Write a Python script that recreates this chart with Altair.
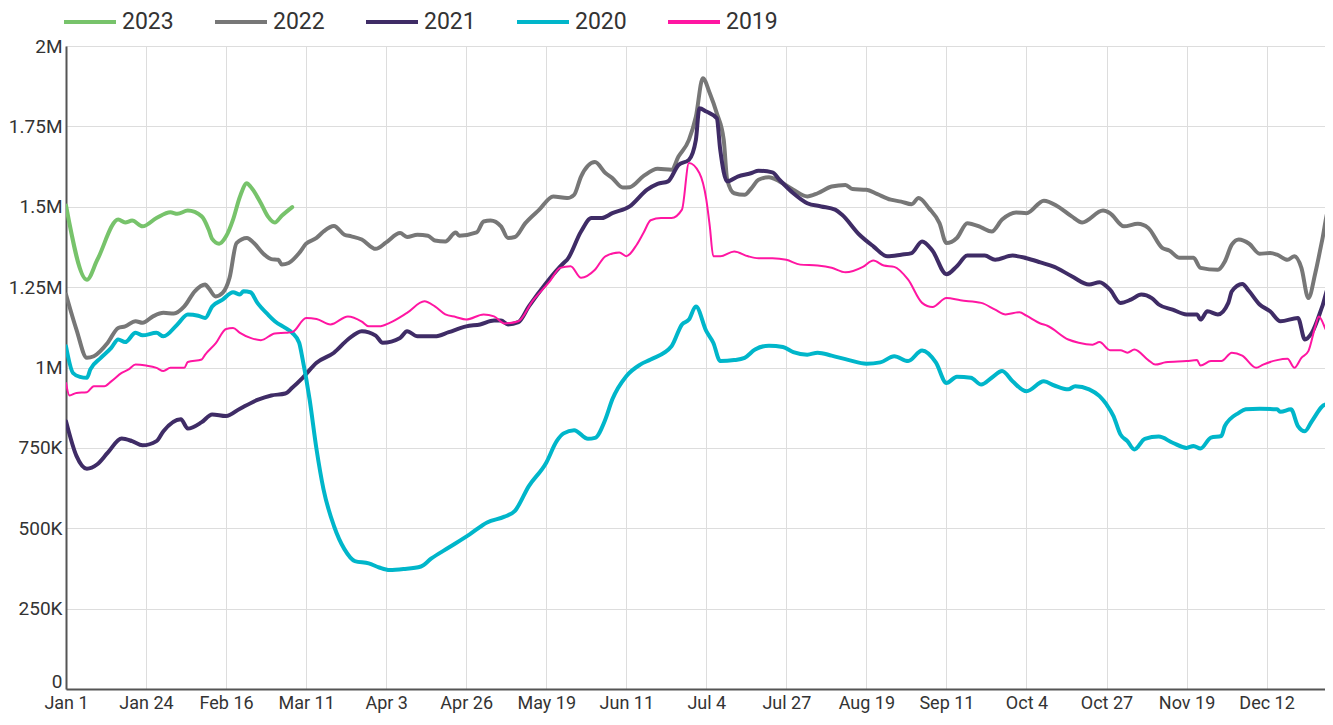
import altair as alt
import pandas as pd

years = ["2023", "2022", "2021", "2020", "2019"]
colors = ["#77c36b", "#777777", "#3f2c66", "#00b6ca", "#ff16a2"]
stroke_widths = [4, 4, 4, 4, 2]

tick_days = [0, 23, 46, 69, 92, 115, 138, 161, 184, 207, 230, 253, 276, 299, 322, 345]
tick_labels = ["Jan 1", "Jan 24", "Feb 16", "Mar 11", "Apr 3", "Apr 26", "May 19", "Jun 11",
               "Jul 4", "Jul 27", "Aug 19", "Sep 11", "Oct 4", "Oct 27", "Nov 19", "Dec 12"]
y_ticks = [0, 250000, 500000, 750000, 1000000, 1250000, 1500000, 1750000, 2000000]

# values in thousands
days_2023 = [0, 6, 9, 15, 17, 19, 22, 26, 30, 32, 35, 39, 41, 42, 44, 46, 48, 50, 52, 53, 56, 58, 60, 62, 65]
vals_2023 = [1504, 1273, 1335, 1460, 1451, 1457, 1439, 1465, 1483, 1478, 1488, 1470, 1429, 1400, 1385,
             1408, 1460, 1532, 1573, 1563, 1511, 1470, 1451, 1472, 1499]

days_2022 = [0, 3, 6, 8, 12, 15, 17, 20, 22, 25, 28, 31, 34, 37, 40, 41, 43, 45, 47, 49, 52, 54, 57, 59,
             61, 62, 64, 67, 69, 72, 74, 77, 80, 82, 85, 89, 92, 96, 98, 101, 104, 106, 109, 112, 113,
             118, 120, 122, 125, 127, 129, 132, 136, 140, 144, 146, 148, 152, 155, 157, 160, 162, 166,
             170, 174, 176, 179, 181, 183, 185, 187, 189, 190, 192, 195, 197, 199, 202, 205, 209, 213,
             216, 220, 224, 226, 230, 233, 237, 240, 243, 245, 248, 251, 253, 256, 259, 263, 266, 269,
             273, 276, 281, 285, 289, 292, 298, 300, 304, 308, 311, 315, 317, 320, 324, 326, 331, 333,
             335, 337, 340, 343, 346, 348, 351, 353, 355, 357, 359, 361, 363, 364]
vals_2022 = [1227, 1118, 1030, 1035, 1077, 1123, 1128, 1144, 1139, 1159, 1170, 1168, 1190, 1237, 1258,
             1247, 1221, 1232, 1279, 1387, 1403, 1387, 1351, 1337, 1335, 1320, 1325, 1356, 1385, 1403,
             1423, 1440, 1413, 1408, 1398, 1369, 1389, 1418, 1406, 1413, 1410, 1395, 1392, 1420, 1410,
             1420, 1454, 1457, 1439, 1403, 1406, 1449, 1491, 1532, 1527, 1537, 1594, 1639, 1605, 1589,
             1560, 1561, 1596, 1618, 1615, 1656, 1708, 1780, 1900, 1853, 1791, 1708, 1584, 1542, 1537,
             1558, 1584, 1592, 1579, 1553, 1532, 1542, 1563, 1568, 1555, 1553, 1540, 1522, 1516, 1508,
             1527, 1495, 1449, 1387, 1403, 1449, 1436, 1423, 1460, 1482, 1480, 1519, 1501, 1470, 1451,
             1488, 1480, 1439, 1447, 1434, 1372, 1364, 1341, 1341, 1310, 1304, 1330, 1382, 1398, 1385,
             1354, 1356, 1351, 1335, 1346, 1310, 1216, 1294, 1398, 1501, 1505]

days_2021 = [0, 3, 6, 9, 12, 16, 19, 22, 26, 28, 33, 35, 39, 42, 46, 50, 55, 59, 63, 65, 68, 72, 77, 81,
             85, 89, 91, 96, 98, 101, 106, 110, 115, 119, 123, 125, 127, 130, 133, 138, 143, 144, 148,
             151, 154, 157, 162, 167, 170, 173, 176, 179, 181, 182, 184, 187, 188, 190, 193, 197, 199,
             203, 205, 209, 213, 217, 221, 223, 228, 232, 236, 240, 243, 246, 249, 253, 256, 259, 264,
             267, 272, 276, 280, 284, 289, 294, 297, 300, 303, 306, 309, 312, 314, 318, 322, 325, 326,
             328, 331, 334, 335, 338, 340, 343, 346, 349, 354, 356, 358, 361, 363, 364]
vals_2021 = [833, 725, 685, 699, 735, 779, 771, 758, 771, 802, 839, 810, 830, 854, 849, 872, 899, 913,
             919, 937, 968, 1015, 1046, 1087, 1113, 1099, 1077, 1092, 1113, 1097, 1097, 1110, 1128, 1134,
             1146, 1146, 1134, 1141, 1190, 1263, 1325, 1335, 1423, 1465, 1465, 1480, 1501, 1553, 1571,
             1579, 1630, 1646, 1708, 1806, 1796, 1775, 1677, 1579, 1594, 1605, 1612, 1607, 1584, 1542,
             1511, 1501, 1491, 1475, 1413, 1377, 1346, 1351, 1356, 1392, 1363, 1290, 1315, 1348, 1348,
             1335, 1348, 1340, 1327, 1313, 1284, 1258, 1265, 1242, 1201, 1211, 1227, 1216, 1196, 1180,
             1165, 1165, 1149, 1175, 1165, 1201, 1237, 1260, 1237, 1196, 1175, 1144, 1154, 1087, 1108,
             1190, 1252, 1232]

days_2020 = [0, 2, 4, 6, 7, 10, 13, 15, 17, 20, 22, 26, 28, 32, 35, 38, 40, 42, 45, 48, 50, 51, 53, 55,
             58, 60, 63, 65, 67, 68, 70, 72, 74, 77, 80, 83, 87, 90, 93, 97, 102, 105, 110, 116, 121,
             126, 129, 133, 138, 141, 143, 146, 150, 152, 155, 157, 161, 165, 168, 174, 177, 179, 181,
             184, 186, 188, 192, 195, 198, 202, 206, 209, 213, 216, 220, 225, 230, 234, 238, 242, 246,
             250, 253, 256, 260, 263, 266, 269, 272, 276, 281, 284, 288, 290, 294, 297, 299, 301, 303,
             305, 307, 310, 314, 318, 322, 324, 326, 329, 332, 333, 337, 339, 343, 348, 349, 352, 354,
             356, 358, 362, 364]
vals_2020 = [1066, 983, 971, 968, 994, 1030, 1061, 1087, 1079, 1108, 1100, 1108, 1097, 1134, 1165, 1161,
             1154, 1190, 1211, 1234, 1227, 1237, 1234, 1201, 1165, 1144, 1123, 1108, 1077, 1025, 901,
             745, 621, 507, 435, 398, 391, 378, 370, 373, 381, 406, 440, 481, 518, 536, 554, 631, 704,
             771, 795, 805, 778, 781, 839, 901, 973, 1009, 1025, 1066, 1134, 1149, 1190, 1113, 1077,
             1020, 1023, 1030, 1056, 1068, 1064, 1048, 1040, 1046, 1037, 1023, 1012, 1016, 1035, 1020,
             1053, 1015, 952, 971, 968, 947, 968, 989, 957, 926, 957, 944, 932, 942, 932, 911, 885, 849,
             792, 771, 745, 778, 785, 766, 750, 756, 748, 782, 787, 818, 859, 870, 872, 870, 862, 870,
             818, 802, 833, 885, 844]

days_2019 = [0, 1, 3, 6, 8, 11, 13, 16, 18, 20, 23, 26, 28, 30, 34, 35, 39, 40, 43, 46, 48, 50, 53, 56,
             60, 63, 65, 69, 72, 76, 81, 85, 87, 90, 93, 98, 103, 106, 109, 112, 115, 120, 123, 126,
             130, 134, 139, 142, 145, 148, 152, 155, 159, 161, 164, 166, 168, 171, 174, 177, 179, 182,
             184, 185, 186, 188, 192, 196, 199, 203, 207, 211, 216, 220, 224, 229, 232, 235, 238, 242,
             246, 249, 253, 257, 263, 267, 270, 274, 276, 280, 282, 288, 291, 295, 297, 300, 303, 305,
             307, 311, 313, 316, 322, 325, 326, 329, 332, 335, 338, 342, 344, 348, 351, 353, 355, 357,
             359, 360, 362, 364]
vals_2019 = [952, 913, 921, 923, 942, 942, 957, 983, 994, 1009, 1006, 999, 989, 999, 999, 1017, 1025,
             1040, 1075, 1120, 1123, 1108, 1092, 1085, 1106, 1108, 1110, 1154, 1151, 1134, 1159, 1143,
             1128, 1128, 1139, 1170, 1206, 1190, 1165, 1157, 1149, 1165, 1159, 1137, 1144, 1206, 1268,
             1310, 1315, 1279, 1304, 1346, 1358, 1346, 1382, 1420, 1458, 1465, 1465, 1491, 1636, 1605,
             1522, 1439, 1346, 1346, 1361, 1346, 1340, 1340, 1335, 1320, 1317, 1310, 1296, 1313, 1333,
             1317, 1313, 1273, 1201, 1188, 1216, 1209, 1201, 1180, 1165, 1172, 1161, 1137, 1130, 1087,
             1077, 1071, 1079, 1054, 1054, 1046, 1056, 1023, 1009, 1016, 1020, 1023, 1006, 1020, 1020,
             1046, 1037, 999, 1009, 1023, 1027, 999, 1030, 1051, 1128, 1159, 1118, 1071]

series = {
    "2023": (days_2023, vals_2023),
    "2022": (days_2022, vals_2022),
    "2021": (days_2021, vals_2021),
    "2020": (days_2020, vals_2020),
    "2019": (days_2019, vals_2019),
}

label_array = "[" + ",".join("'" + t + "'" for t in tick_labels) + "]"
x_label_expr = label_array + "[round(datum.value / 23)]"
y_label_expr = ("datum.value == 0 ? '0' : datum.value >= 1000000 ? "
                "(datum.value / 1000000) + 'M' : (datum.value / 1000) + 'K'")

PLOT_W = 1259
X_MAX = PLOT_W / 3.48  # keeps 23 days = 80 px as in the reference

color_scale = alt.Scale(domain=years, range=colors)
legend = alt.Legend(
    orient="none", legendX=-4, legendY=-52, direction="horizontal", title=None,
    symbolType="stroke", symbolSize=2704, symbolStrokeWidth=4,
    labelFontSize=23, labelFont="Roboto", labelColor="#333333",
    columnPadding=33, labelOffset=4,
)

layers = []
for yr, sw in zip(years, stroke_widths):
    d, v = series[yr]
    df = pd.DataFrame({"day": d, "value": [x * 1000 for x in v], "year": yr})
    layers.append(
        alt.Chart(df).mark_line(strokeWidth=sw, clip=True, strokeJoin="round", strokeCap="round",
                                interpolate="monotone").encode(
            x=alt.X("day:Q", scale=alt.Scale(domain=[0, X_MAX], nice=False, zero=False),
                    axis=alt.Axis(values=tick_days, labelExpr=x_label_expr, title=None,
                                  labelPadding=5, labelAlign="center", labelFontSize=18)),
            y=alt.Y("value:Q", scale=alt.Scale(domain=[0, 2000000], nice=False),
                    axis=alt.Axis(values=y_ticks, labelExpr=y_label_expr, title=None, labelPadding=4,
                                  labelOffset={"condition": {"test": "datum.value == 0", "value": -8},
                                               "value": 0})),
            color=alt.Color("year:N", scale=color_scale, legend=legend, sort=years),
        )
    )

chart = alt.layer(*layers).properties(
    width=PLOT_W, height=643,
    autosize=alt.AutoSizeParams(type="none"),
    padding={"left": 58, "top": 38, "right": 0, "bottom": 28},
    background="white",
).configure_view(stroke=None).configure_axis(
    labelFont="Roboto", labelFontSize=19, labelColor="#333333",
    domainColor="#555555", domainWidth=2, gridColor="#dddddd", gridWidth=1,
    ticks=False, tickSize=0,
)

chart.save("out.html", embed_options={"renderer": "svg", "actions": False})
